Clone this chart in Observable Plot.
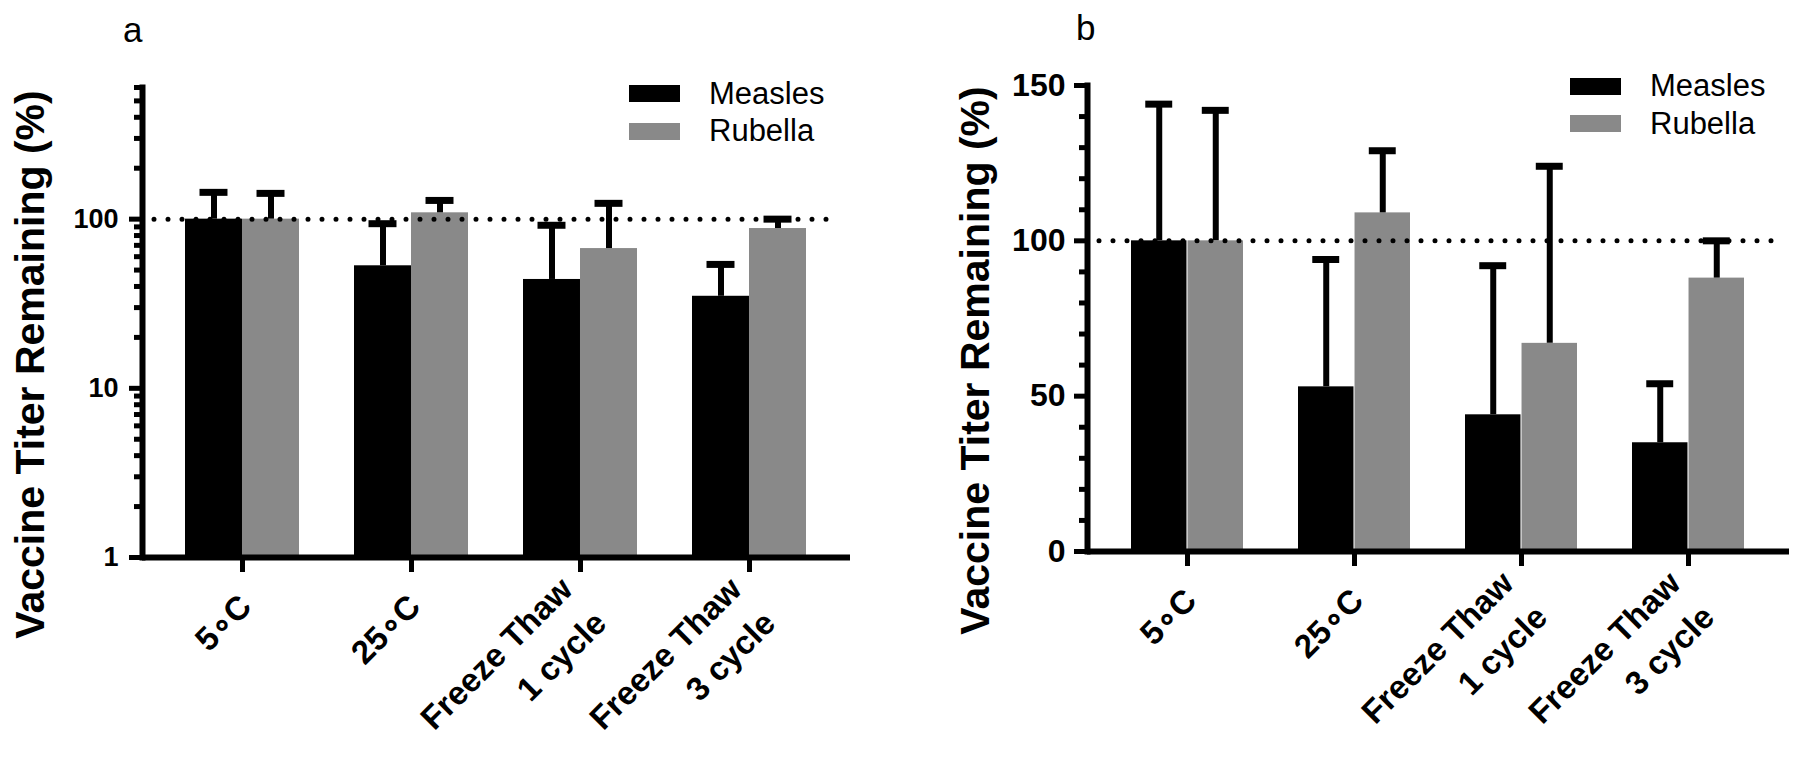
<!DOCTYPE html>
<html><head><meta charset="utf-8">
<script src="https://cdn.jsdelivr.net/npm/d3@7"></script>
<script src="https://cdn.jsdelivr.net/npm/@observablehq/plot@0.6"></script>
<style>
html,body{margin:0;padding:0;background:#fff;}
#root{position:relative;width:1800px;height:771px;overflow:hidden;font-family:"Liberation Sans",Arial,sans-serif;color:#000;}
.panel{position:absolute;top:0;}
.panel svg{font-family:"Liberation Sans",Arial,sans-serif;}
.panel svg text{font-weight:bold;}
.tag{position:absolute;font-size:35px;line-height:1;}
.lrow{position:absolute;display:flex;align-items:center;height:37px;font-size:31px;white-space:nowrap;}
.lrow .sw{width:51px;height:17px;margin-right:29px;}
</style></head>
<body><div id="root"></div>
<script>
// ---- data ----
const categories = ["5C", "25C", "FT1", "FT3"];
const categoryLabels = ["5\u2218C", "25\u2218C", "Freeze Thaw\n1 cycle", "Freeze Thaw\n3 cycle"];
const series = ["Measles", "Rubella"];
const seriesColors = ["#000000", "#898989"];
const measlesMean = [100, 53, 44, 35];
const measlesUpper = [144, 94, 92, 54];
const rubellaMean = [100, 109, 67, 88];
const rubellaUpper = [142, 129, 124, 100];
const logDomain = [1, 600];
const logTicks = [1, 10, 100];
const logMinorTicks = [2, 3, 4, 5, 6, 7, 8, 9, 20, 30, 40, 50, 60, 70, 80, 90, 200, 300, 400, 500, 600];
const linDomain = [0, 150];
const linTicks = [0, 50, 100, 150];
const linMinorTicks = [10, 20, 30, 40, 60, 70, 80, 90, 110, 120, 130, 140];
const referenceLevel = 100;
const yLabel = "Vaccine Titer Remaining (%)";
const panelTags = ["a", "b"];

// ---- table ----
const means = [measlesMean, rubellaMean];
const uppers = [measlesUpper, rubellaUpper];
const rows = [];
series.forEach((s, si) => categories.forEach((c, ci) => rows.push({cat: c, series: s, mean: means[si][ci], upper: uppers[si][ci]})));
const labelMap = new Map(categories.map((c, i) => [c, categoryLabels[i]]));
const colorMap = new Map(series.map((s, i) => [s, seriesColors[i]]));

const root = document.getElementById("root");

function panel(cfg) {
  const pi = 0.327, po = 0.25;
  const frameW = cfg.width - cfg.marginLeft - cfg.marginRight;
  const step = frameW / (categories.length - pi + 2 * po);
  const bw = step * (1 - pi);
  const half = bw / 2;
  const capW = 28;
  const capIn = (half - capW) / 2;
  const m = rows.filter(d => d.series === series[0]);
  const r = rows.filter(d => d.series === series[1]);
  const base = cfg.yDomain[0];
  const plot = Plot.plot({
    width: cfg.width,
    height: 771,
    marginLeft: cfg.marginLeft,
    marginRight: cfg.marginRight,
    marginTop: cfg.marginTop,
    marginBottom: cfg.marginBottom,
    style: {background: "transparent", color: "#000", overflow: "visible"},
    x: {type: "band", domain: categories, paddingInner: pi, paddingOuter: po, align: 0.5},
    y: {type: cfg.yType, domain: cfg.yDomain},
    marks: [
      Plot.barY(m, {x: "cat", y1: () => base, y2: "mean", fill: d => colorMap.get(d.series), insetRight: half}),
      Plot.barY(r, {x: "cat", y1: () => base, y2: "mean", fill: d => colorMap.get(d.series), insetLeft: half}),
      Plot.ruleX(m, {x: "cat", y1: "mean", y2: "upper", dx: -half / 2, strokeWidth: 6, stroke: "#000"}),
      Plot.ruleX(r, {x: "cat", y1: "mean", y2: "upper", dx: half / 2, strokeWidth: 6, stroke: "#000"}),
      Plot.tickY(m, {x: "cat", y: "upper", insetLeft: capIn, insetRight: half + capIn, strokeWidth: 7, stroke: "#000"}),
      Plot.tickY(r, {x: "cat", y: "upper", insetLeft: half + capIn, insetRight: capIn, strokeWidth: 7, stroke: "#000"}),
      Plot.ruleY([referenceLevel], {strokeWidth: 5, strokeDasharray: "0,14", strokeLinecap: "round", insetLeft: 12, insetRight: 12, stroke: "#000"}),
      Plot.ruleY([base], {strokeWidth: 6, stroke: "#000", insetRight: -1}),
      Plot.frame({anchor: "left", strokeWidth: 6, stroke: "#000"}),
      Plot.axisY({ticks: cfg.minor, tickSize: 8, strokeWidth: 5, tickFormat: () => "", label: null}),
      Plot.axisY({ticks: cfg.ticks, tickSize: 13, tickPadding: cfg.yPad, strokeWidth: 5, fontSize: cfg.yFont, fontWeight: "bold", tickFormat: d => String(d), label: null}),
      Plot.axisX({tickSize: 15, strokeWidth: 5, tickFormat: () => "", label: null}),
      Plot.axisX({tickSize: 0, tickPadding: 40, dx: 0, tickRotate: -45, fontSize: 33, fontWeight: "bold", lineHeight: 1.45, tickFormat: k => labelMap.get(k), label: null}),
      Plot.text([yLabel], {text: d => d, frameAnchor: "left", textAnchor: "middle", rotate: -90, dx: -112, dy: 42, fontSize: 41, fontWeight: "bold", fill: "#000"})
    ]
  });
  const div = document.createElement("div");
  div.className = "panel";
  div.style.left = cfg.left + "px";
  div.appendChild(plot);
  root.appendChild(div);
}

panel({left: 0, width: 900, marginLeft: 142, marginRight: 51, marginTop: 87, marginBottom: 214, yType: "log", yDomain: logDomain, ticks: logTicks, minor: logMinorTicks, yFont: 27, yPad: 11});
panel({left: 900, width: 900, marginLeft: 187, marginRight: 12, marginTop: 85, marginBottom: 220, yType: "linear", yDomain: linDomain, ticks: linTicks, minor: linMinorTicks, yFont: 32, yPad: 9});

// panel tags
[[123, 12], [1076, 10]].forEach(([x, y], i) => {
  const t = document.createElement("div");
  t.className = "tag";
  t.style.left = x + "px"; t.style.top = y + "px";
  t.textContent = panelTags[i];
  root.appendChild(t);
});

// legends
function legend(x, y) {
  series.forEach((s, i) => {
    const row = document.createElement("div");
    row.className = "lrow";
    row.style.left = x + "px";
    row.style.top = (y + i * 37.5) + "px";
    const sw = document.createElement("div");
    sw.className = "sw";
    sw.style.background = seriesColors[i];
    row.appendChild(sw);
    const tx = document.createElement("span");
    tx.textContent = s;
    row.appendChild(tx);
    root.appendChild(row);
  });
}
legend(629, 75);
legend(1570, 67.5);
</script>
</body></html>
